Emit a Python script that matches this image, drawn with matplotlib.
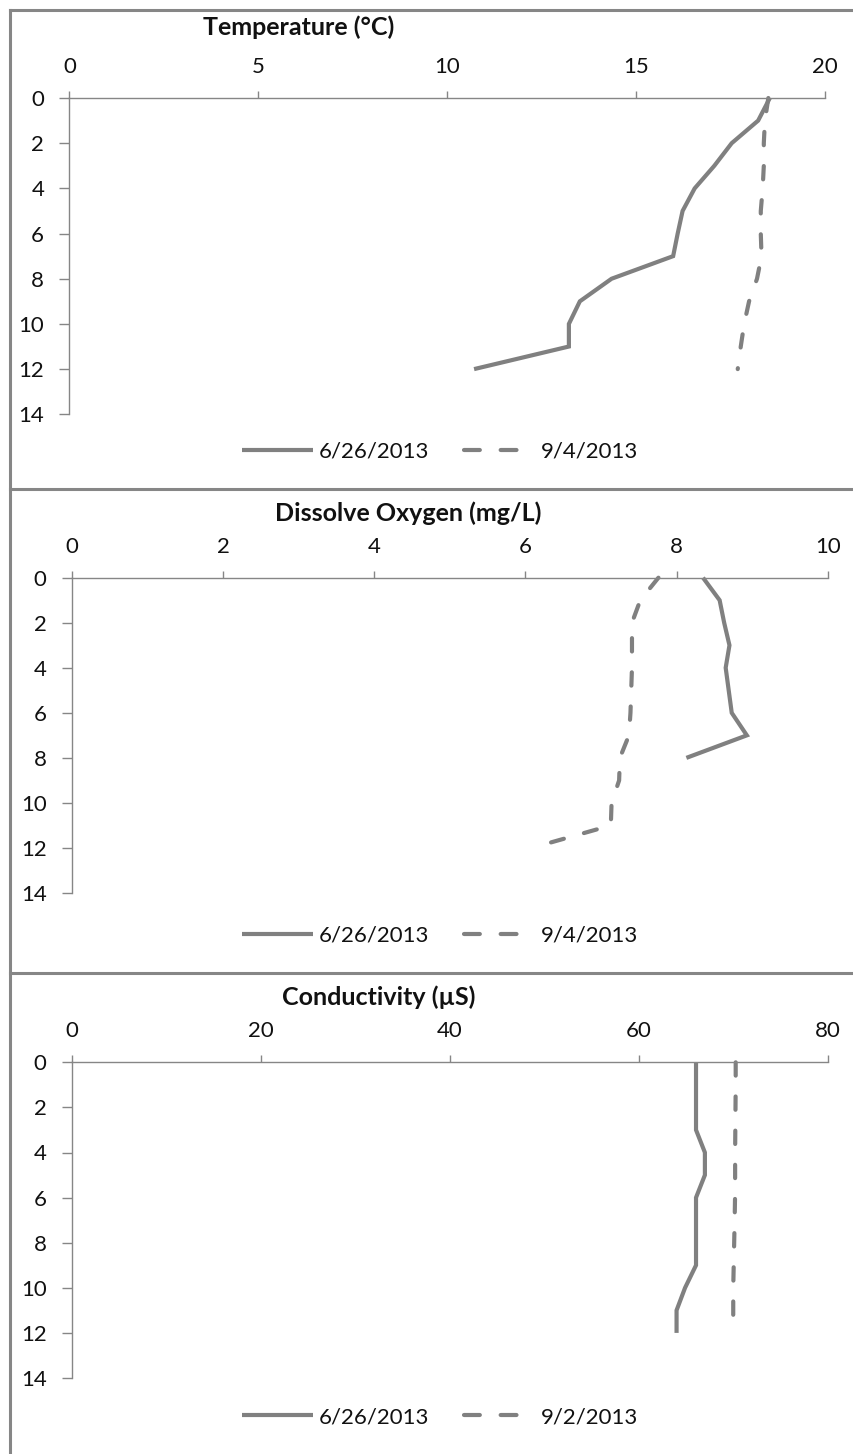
import matplotlib
matplotlib.use("Agg")
import matplotlib.pyplot as plt
from matplotlib.lines import Line2D

plt.rcParams['font.family'] = ['Lato', 'DejaVu Sans']

# Depth profiles (m)
depth_full = [0, 1, 2, 3, 4, 5, 6, 7, 8, 9, 10, 11, 12]
depth_do_june = [0, 1, 2, 3, 4, 5, 6, 7, 8]

temp_june = [18.54, 18.23, 17.53, 17.07, 16.55, 16.23, 16.10, 15.98, 14.35, 13.51, 13.22, 13.22, 10.71]
temp_sept = [18.50, 18.41, 18.38, 18.38, 18.35, 18.30, 18.30, 18.32, 18.20, 17.99, 17.86, 17.77, 17.69]

do_june = [8.35, 8.57, 8.63, 8.70, 8.65, 8.69, 8.73, 8.93, 8.13]
do_sept = [7.76, 7.52, 7.41, 7.41, 7.41, 7.40, 7.39, 7.37, 7.25, 7.24, 7.14, 7.13, 6.08]

cond_june = [66.06, 66.06, 66.06, 66.06, 67.0, 67.0, 66.06, 66.06, 66.06, 66.06, 64.9, 64.0, 64.0]
cond_sept = [70.26, 70.26, 70.24, 70.22, 70.2, 70.2, 70.19, 70.15, 70.1, 70.05, 70.0, 70.0, 70.0]

titles = ["Temperature (°C)", "Dissolve Oxygen (mg/L)", "Conductivity (µS)"]
xticks_list = [[0, 5, 10, 15, 20], [0, 2, 4, 6, 8, 10], [0, 20, 40, 60, 80]]
yticks = [0, 2, 4, 6, 8, 10, 12, 14]
legend_labels = [("6/26/2013", "9/4/2013"), ("6/26/2013", "9/4/2013"), ("6/26/2013", "9/2/2013")]

W, H = 854, 1454
DPI = 100
fig = plt.figure(figsize=(W / DPI, H / DPI), dpi=DPI)
fig.patch.set_facecolor("white")

LINE_COLOR = "#808080"
AXIS_COLOR = "#868686"
FRAME_COLOR = "#868686"
TEXT_COLOR = "#111111"


def px_axes(x0, x1, y0, y1):
    """Axes from pixel bounds (top-left origin)."""
    return fig.add_axes([x0 / W, 1 - y1 / H, (x1 - x0) / W, (y1 - y0) / H])


# panel layout in pixels: plot area bounds, title position, legend position
panels = [
    dict(box=(69.5, 825, 98, 414.3), title=(299, 27), legend=(440, 452)),
    dict(box=(72, 827.7, 577.7, 893), title=(408, 513), legend=(440, 936)),
    dict(box=(72, 827.7, 1062.3, 1378), title=(379, 997), legend=(440, 1417)),
]

series = [
    (temp_june, depth_full, temp_sept, depth_full),
    (do_june, depth_do_june, do_sept, depth_full),
    (cond_june, depth_full, cond_sept, depth_full),
]

dash_pattern = (3.2, 5.0)
legend_dash = (3.8, 5.0, 3.8, 12.0)

for i, p in enumerate(panels):
    ax = px_axes(*p["box"])
    xj, dj, xs, ds = series[i]
    ax.plot(xj, dj, color=LINE_COLOR, lw=3.0, solid_joinstyle="miter",
            solid_capstyle="butt", clip_on=False)
    ax.plot(xs, ds, color=LINE_COLOR, lw=3.0, dashes=dash_pattern,
            dash_capstyle="round", clip_on=False)

    xt = xticks_list[i]
    ax.set_xlim(xt[0], xt[-1])
    ax.set_ylim(14, 0)
    ax.set_xticks(xt)
    ax.set_yticks(yticks)
    ax.xaxis.tick_top()
    for s in ("right", "bottom"):
        ax.spines[s].set_visible(False)
    for s in ("top", "left"):
        ax.spines[s].set_color(AXIS_COLOR)
        ax.spines[s].set_linewidth(1.0)
    ax.tick_params(axis="x", direction="out", length=5, width=1.0,
                   color=AXIS_COLOR, pad=10, labelsize=16, labelcolor=TEXT_COLOR)
    ax.tick_params(axis="y", direction="out", length=7.2, width=1.0,
                   color=AXIS_COLOR, pad=11, labelsize=16, labelcolor=TEXT_COLOR)
    ax.set_facecolor("none")

    tx, ty = p["title"]
    fig.text(tx / W, 1 - ty / H, titles[i], ha="center", va="center",
             fontsize=18, fontweight="bold", color=TEXT_COLOR)

    lj, ls = legend_labels[i]
    handles = [
        Line2D([], [], color=LINE_COLOR, lw=3.0, solid_capstyle="butt"),
        Line2D([], [], color=LINE_COLOR, lw=3.0, dashes=legend_dash,
               dash_capstyle="round"),
    ]
    lx, ly = p["legend"]
    fig.legend(handles, [lj, ls], loc="center", ncol=2, frameon=False,
               bbox_to_anchor=(lx / W, 1 - ly / H), bbox_transform=fig.transFigure,
               fontsize=16, handlelength=3.2, handletextpad=0.25,
               columnspacing=1.6, labelcolor=TEXT_COLOR)

# outer panel frames
frame_kw = dict(color=FRAME_COLOR, lw=2.2, transform=fig.transFigure)
fig.add_artist(Line2D([10 / W, 10 / W], [0, 1 - 10 / H], **frame_kw))
for yy in (10, 489, 973):
    fig.add_artist(Line2D([10 / W, 1], [1 - yy / H, 1 - yy / H], **frame_kw))

fig.savefig("out.png", dpi=DPI)
